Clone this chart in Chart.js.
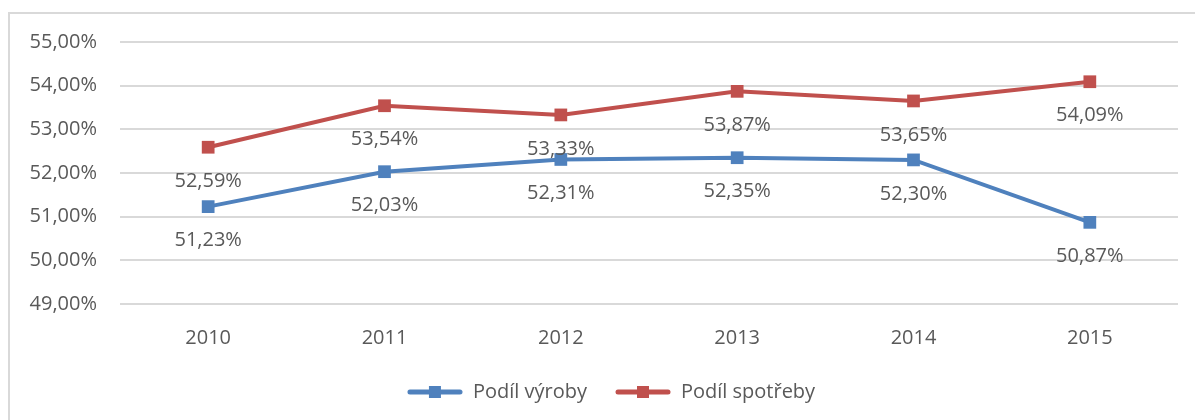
<!DOCTYPE html>
<html>
<head>
<meta charset="utf-8">
<script src="https://cdn.jsdelivr.net/npm/chart.js@4"></script>
<style>
  html, body { margin: 0; padding: 0; background: #fff; }
  #wrap { position: relative; width: 1195px; height: 420px; overflow: hidden; }
  #frame { position: absolute; left: 8px; top: 12px; width: 1200px; height: 420px;
           border-left: 2px solid #d9d9d9; border-top: 2px solid #d9d9d9; box-sizing: border-box; }
  #chart { position: absolute; left: 0; top: 0; }
</style>
</head>
<body>
<div id="wrap">
  <div id="frame"></div>
  <canvas id="chart" width="1195" height="420"></canvas>
</div>
<script>
const years = ['2010', '2011', '2012', '2013', '2014', '2015'];
const vyroba = [51.23, 52.03, 52.31, 52.35, 52.30, 50.87];
const spotreba = [52.59, 53.54, 53.33, 53.87, 53.65, 54.09];
const seriesNames = ['Podíl výroby', 'Podíl spotřeby'];

const BLUE = '#4f81bd';
const RED = '#c0504d';
const TEXT = '#595959';
const FONT = "'Open Sans', sans-serif";
const FSIZE = 20;

function pct(v) {
    return v.toFixed(2).replace('.', ',') + '%';
}

// legend symbol: line with square marker in the middle
function legendIcon(color) {
    const c = document.createElement('canvas');
    c.width = 56; c.height = 14;
    const g = c.getContext('2d');
    g.strokeStyle = color;
    g.lineWidth = 5;
    g.lineCap = 'round';
    g.beginPath();
    g.moveTo(3, 7);
    g.lineTo(53, 7);
    g.stroke();
    g.fillStyle = color;
    g.fillRect(22, 1, 12, 12);
    return c;
}

const labelPlugin = {
    id: 'valueLabels',
    afterLayout(chart) {
        // legend sits a bit right of the canvas centre in the original
        if (chart.legend) chart.legend.left += 34;
    },
    afterDatasetsDraw(chart) {
        const ctx = chart.ctx;
        ctx.save();
        ctx.font = FSIZE + 'px ' + FONT;
        ctx.fillStyle = TEXT;
        ctx.textAlign = 'center';
        ctx.textBaseline = 'middle';
        chart.data.datasets.forEach((ds, i) => {
            const meta = chart.getDatasetMeta(i);
            meta.data.forEach((pt, j) => {
                ctx.fillText(pct(ds.data[j]), pt.x, pt.y + 34);
            });
        });
        ctx.restore();
    }
};

const icons = [legendIcon(BLUE), legendIcon(RED)];

const chart = new Chart(document.getElementById('chart'), {
    type: 'line',
    data: {
        labels: years,
        datasets: [
            {
                label: seriesNames[0],
                data: vyroba,
                borderColor: BLUE,
                backgroundColor: BLUE,
                borderWidth: 4,
                pointStyle: 'rect',
                pointRadius: 9,
                pointHoverRadius: 9,
                pointBorderWidth: 0,
                tension: 0
            },
            {
                label: seriesNames[1],
                data: spotreba,
                borderColor: RED,
                backgroundColor: RED,
                borderWidth: 4,
                pointStyle: 'rect',
                pointRadius: 9,
                pointHoverRadius: 9,
                pointBorderWidth: 0,
                tension: 0
            }
        ]
    },
    options: {
        responsive: false,
        animation: false,
        layout: { padding: { top: 42, left: 10, right: 17, bottom: 8 } },
        plugins: {
            tooltip: { enabled: false },
            legend: {
                position: 'bottom',
                labels: {
                    usePointStyle: true,
                    pointStyleWidth: 56,
                    boxHeight: 14,
                    padding: 28,
                    color: TEXT,
                    font: { family: FONT, size: FSIZE },
                    generateLabels(ch) {
                        const items = Chart.defaults.plugins.legend.labels.generateLabels(ch);
                        items.forEach((it, i) => { it.pointStyle = icons[i]; });
                        return items;
                    }
                }
            }
        },
        scales: {
            x: {
                offset: true,
                grid: { display: false },
                border: { display: false },
                ticks: { color: TEXT, font: { family: FONT, size: FSIZE }, padding: 14 },
                afterFit(s) { s.height = 50; }
            },
            y: {
                min: 49,
                max: 55,
                grid: { color: '#d9d9d9', lineWidth: 2, drawTicks: false },
                border: { display: false },
                ticks: {
                    stepSize: 1,
                    color: TEXT,
                    padding: 23,
                    font: { family: FONT, size: FSIZE },
                    callback: v => pct(v)
                },
                afterFit(s) { s.width = 110; }
            }
        }
    },
    plugins: [labelPlugin]
});
</script>
</body>
</html>
